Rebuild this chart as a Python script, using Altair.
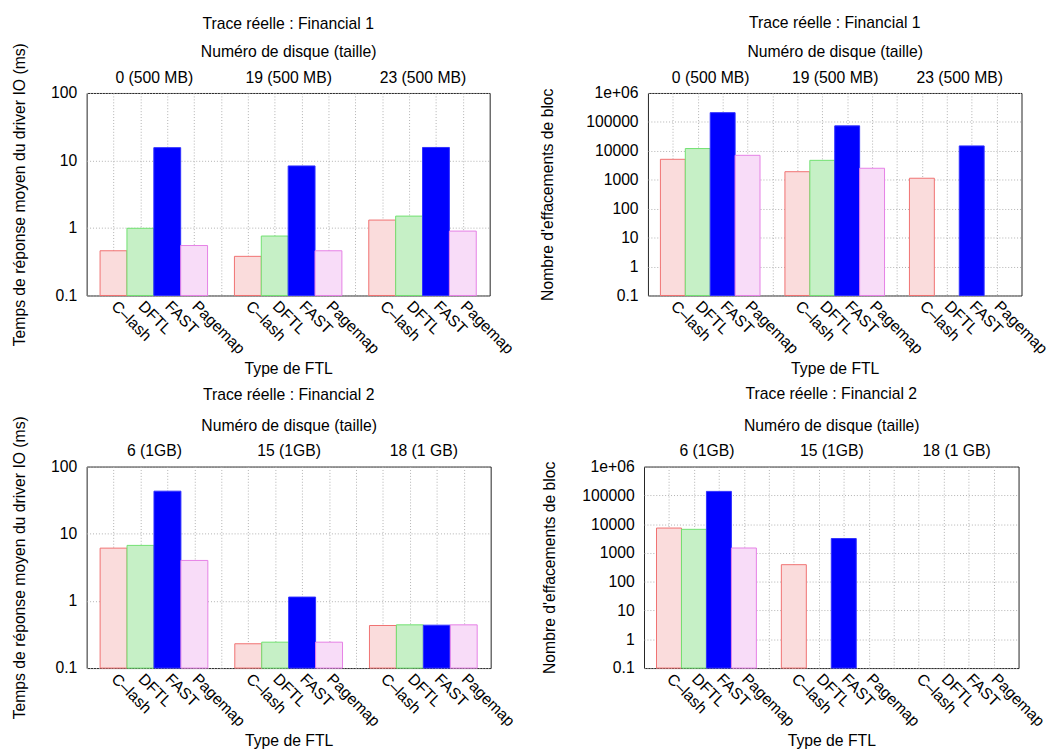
import json
import altair as alt
import pandas as pd

FONT = "Liberation Sans"
FS = 16

ftl = ["C–lash", "DFTL", "FAST", "Pagemap"]
fill_colors = ["#fadcdc", "#c6f0c6", "#0000ff", "#f8dcf8"]
stroke_colors = ["#f07070", "#70e070", "#3030ff", "#e680e6"]

f1_disks = ["0 (500 MB)", "19 (500 MB)", "23 (500 MB)"]
f2_disks = ["6 (1GB)", "15 (1GB)", "18 (1 GB)"]

# Financial 1 - mean response time (ms), per disk: C-lash, DFTL, FAST, Pagemap
f1_resp_d0 = [0.46, 0.99, 15.5, 0.55]
f1_resp_d1 = [0.38, 0.76, 8.3, 0.46]
f1_resp_d2 = [1.31, 1.5, 15.6, 0.90]
# Financial 1 - block erase count
f1_erase_d0 = [5100, 12000, 209000, 7000]
f1_erase_d1 = [1900, 4700, 73000, 2500]
f1_erase_d2 = [1130, None, 14800, None]
# Financial 2 - mean response time (ms)
f2_resp_d0 = [6.1, 6.7, 43, 4.0]
f2_resp_d1 = [0.23, 0.243, 1.14, 0.243]
f2_resp_d2 = [0.43, 0.44, 0.435, 0.44]
# Financial 2 - block erase count
f2_erase_d0 = [7300, 6600, 137000, 1480]
f2_erase_d1 = [390, None, 3150, None]
f2_erase_d2 = [None, None, None, None]

resp_ticks = [0.1, 1, 10, 100]
resp_labels = ["0.1", "1", "10", "100"]
erase_ticks = [0.1, 1, 10, 100, 1000, 10000, 100000, 1000000]
erase_labels = ["0.1", "1", "10", "100", "1000", "10000", "100000", "1e+06"]

title_f1 = "Trace réelle : Financial 1"
title_f2 = "Trace réelle : Financial 2"
ytitle_resp = "Temps de réponse moyen du driver IO (ms)"
ytitle_erase = "Nombre d'effacements de bloc"
xtitle_bottom = "Type de FTL"
xtitle_top = "Numéro de disque (taille)"

GROUP = len(ftl) + 1  # bars per group + one gap slot
NSLOTS = GROUP * 3 - 1

common = dict(labelFontSize=FS, titleFontSize=FS, labelFont=FONT, titleFont=FONT,
              titleFontWeight="normal", labelColor="black", titleColor="black")


def panel(groups, disks, title, ytitle, yticks, ylabels, width, height, ytp, toff):
    rows = []
    for g, vals in enumerate(groups):
        for i, v in enumerate(vals):
            if v is None:
                continue
            rows.append({"ftl": ftl[i], "pos": g * GROUP + i, "value": v})
    df = pd.DataFrame(rows)
    centers = pd.DataFrame({"center": [g * GROUP + (len(ftl) - 1) / 2 for g in range(len(disks))]})

    xscale = alt.Scale(domain=[-1, NSLOTS], nice=False, zero=False)
    bottom_labels = [ftl[p % GROUP] if p % GROUP < len(ftl) else "" for p in range(NSLOTS)]
    bottom_axis = alt.Axis(
        values=list(range(NSLOTS)),
        labelExpr=json.dumps(bottom_labels, ensure_ascii=False) + "[datum.value]",
        title=xtitle_bottom,
        grid=True, gridDash=[1, 2], gridColor="#b0b0b0", gridWidth=1,
        ticks=False, domain=False,
        labelAngle=45, labelAlign="left", labelBaseline="middle",
        labelPadding=8, labelOverlap=False, labelFlush=False, labelBound=False,
        titlePadding=4, **common,
    )
    top_axis = alt.Axis(
        orient="top",
        values=list(centers["center"]),
        labelExpr=json.dumps(disks, ensure_ascii=False) + f"[round((datum.value-{(len(ftl)-1)/2})/{GROUP})]",
        title=xtitle_top, grid=False, ticks=False, domain=False,
        labelPadding=8, titlePadding=10, labelOverlap=False, labelFlush=False, **common,
    )
    yaxis = alt.Axis(
        values=yticks,
        labelExpr=json.dumps(ylabels) + "[indexof(" + json.dumps(yticks) + ", datum.value)]",
        title=ytitle, grid=True, gridDash=[1, 2], gridColor="#b0b0b0", gridWidth=1,
        ticks=False, domain=False, labelPadding=10, titlePadding=ytp, **common,
    )
    yscale = alt.Scale(type="log", domain=[yticks[0], yticks[-1]], nice=False)

    bars = alt.Chart(df).mark_bar(strokeWidth=1).transform_calculate(
        x0="datum.pos - 0.5", x1="datum.pos + 0.5", base=str(yticks[0])
    ).encode(
        x=alt.X("x0:Q", scale=xscale, axis=bottom_axis),
        x2="x1:Q",
        y=alt.Y("value:Q", scale=yscale, axis=yaxis),
        y2="base:Q",
        fill=alt.Fill("ftl:N", scale=alt.Scale(domain=ftl, range=fill_colors), legend=None),
        stroke=alt.Stroke("ftl:N", scale=alt.Scale(domain=ftl, range=stroke_colors), legend=None),
    )
    top = alt.Chart(centers).mark_point(opacity=0).encode(
        x=alt.X("center:Q", scale=xscale, axis=top_axis),
    )
    return alt.layer(bars, top).resolve_axis(x="independent").properties(
        width=width, height=height,
        title=alt.TitleParams(title, offset=toff, fontSize=FS, fontWeight="normal", font=FONT, color="black"),
    )


p1 = panel([f1_resp_d0, f1_resp_d1, f1_resp_d2], f1_disks, title_f1, ytitle_resp,
           resp_ticks, resp_labels, 410, 206, 24, 11)
p2 = panel([f1_erase_d0, f1_erase_d1, f1_erase_d2], f1_disks, title_f1, ytitle_erase,
           erase_ticks, erase_labels, 380, 206, 31, 13)
p3 = panel([f2_resp_d0, f2_resp_d1, f2_resp_d2], f2_disks, title_f2, ytitle_resp,
           resp_ticks, resp_labels, 411, 205, 24, 13)
p4 = panel([f2_erase_d0, f2_erase_d1, f2_erase_d2], f2_disks, title_f2, ytitle_erase,
           erase_ticks, erase_labels, 381, 205, 25, 16)

chart = alt.vconcat(
    alt.hconcat(p1, p2, spacing=22),
    alt.hconcat(p3, p4, spacing=23),
    spacing=8,
).properties(
    padding={"left": 2, "top": 0, "right": 0, "bottom": 0},
).configure(font=FONT).configure_view(stroke="#222222", strokeWidth=1)

chart.save("out.html", embed_options={"renderer": "svg", "actions": False})
